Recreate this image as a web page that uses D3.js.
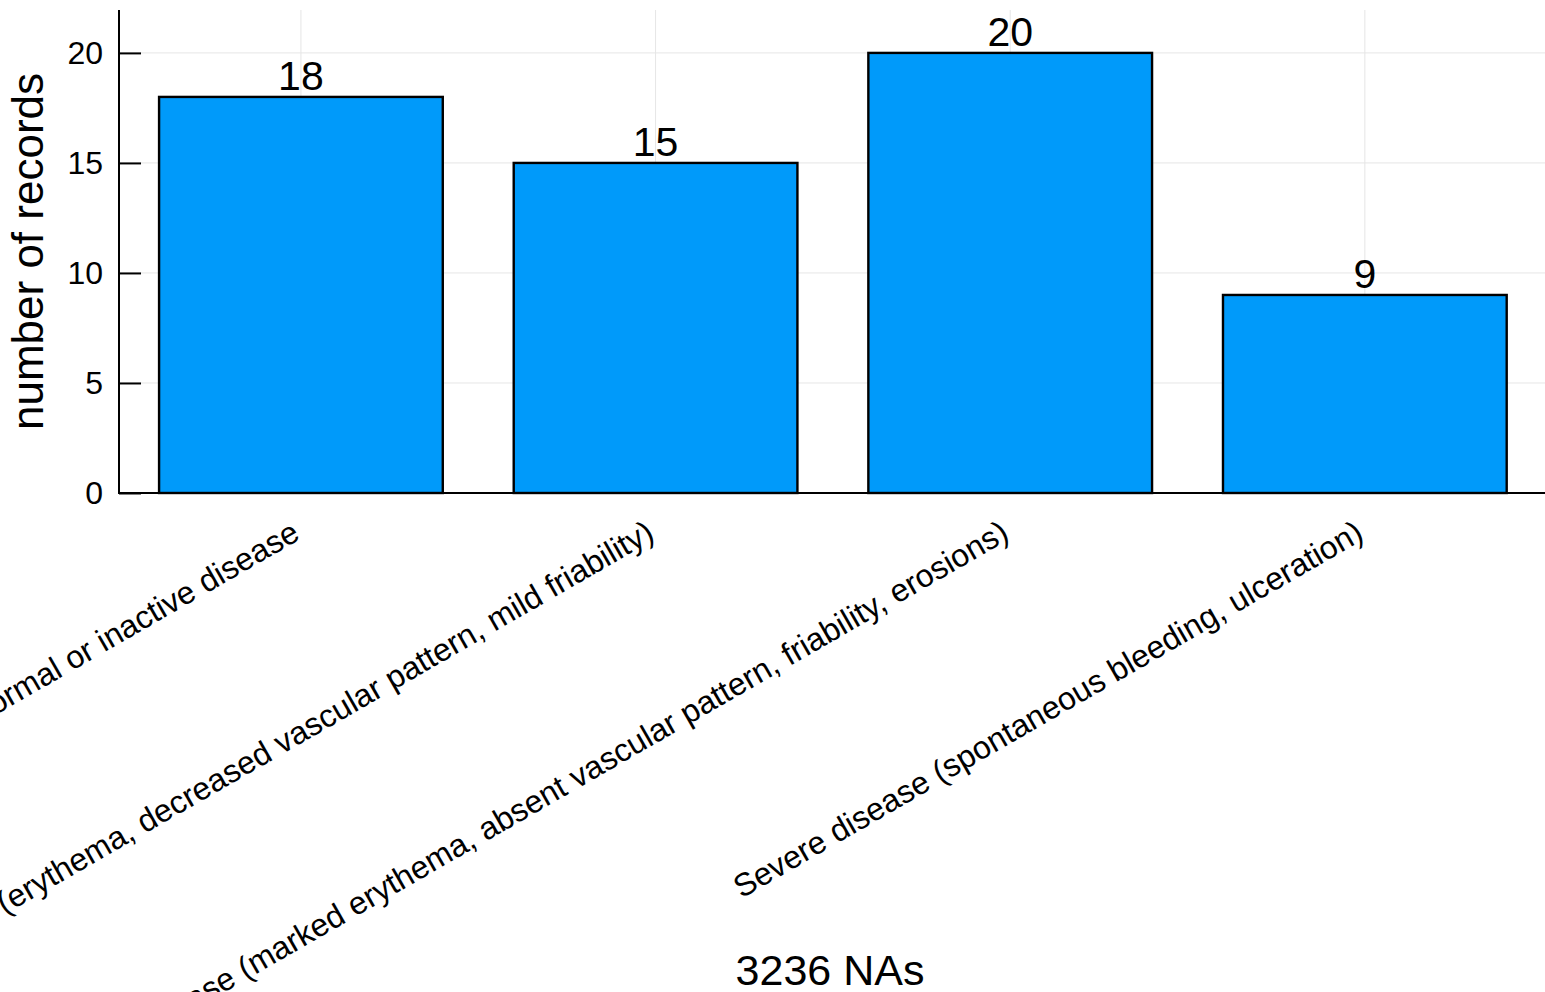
<!DOCTYPE html>
<html>
<head>
<meta charset="utf-8">
<script src="https://cdn.jsdelivr.net/npm/d3@7"></script>
<style>
  html, body { margin: 0; padding: 0; background: #fff; }
  svg { display: block; }
  text { font-family: "Liberation Sans", Arial, Helvetica, sans-serif; fill: #000; }
</style>
</head>
<body>
<svg id="chart" width="1545" height="992"></svg>
<script>
const categories = [
  "Normal or inactive disease",
  "Mild disease (erythema, decreased vascular pattern, mild friability)",
  "Moderate disease (marked erythema, absent vascular pattern, friability, erosions)",
  "Severe disease (spontaneous bleeding, ulceration)"
];
const counts = [18, 15, 20, 9];
const yTicks = [0, 5, 10, 15, 20];
const yLabel = "number of records";
const xLabel = "3236 NAs";

const W = 1545, H = 992;
const plotL = 119, plotR = 1545, plotT = 10, plotB = 493;

const svg = d3.select("#chart");

const x = d3.scaleLinear().domain([0.487, 4.508]).range([plotL, plotR]);
const y = d3.scaleLinear().domain([0, 21.95]).range([plotB, plotT]);
const barW = 0.8;

// grid lines
const grid = svg.append("g");
grid.selectAll("line.hg").data(yTicks).join("line")
  .attr("class", "hg")
  .attr("x1", plotL).attr("x2", plotR)
  .attr("y1", d => y(d)).attr("y2", d => y(d))
  .attr("stroke", "#e6e6e6").attr("stroke-width", 1);
grid.selectAll("line.vg").data(categories).join("line")
  .attr("class", "vg")
  .attr("x1", (d, i) => x(i + 1)).attr("x2", (d, i) => x(i + 1))
  .attr("y1", plotT).attr("y2", plotB)
  .attr("stroke", "#e6e6e6").attr("stroke-width", 1);

// y axis using d3 axis, ticks inward
const yAxis = d3.axisRight(y).tickValues(yTicks).tickSize(22).tickFormat("");
const gy = svg.append("g").attr("transform", `translate(${plotL},0)`).call(yAxis);
gy.select(".domain").remove();
gy.selectAll(".tick line").attr("stroke", "#000").attr("stroke-width", 2);

// y tick labels
svg.append("g").selectAll("text").data(yTicks).join("text")
  .attr("x", plotL - 16).attr("y", d => y(d))
  .attr("text-anchor", "end").attr("dominant-baseline", "central")
  .style("font-size", "32px")
  .text(d => d);

// bars
svg.append("g").selectAll("rect").data(counts).join("rect")
  .attr("x", (d, i) => x(i + 1 - barW / 2))
  .attr("width", (d, i) => x(i + 1 + barW / 2) - x(i + 1 - barW / 2))
  .attr("y", d => y(d))
  .attr("height", d => y(0) - y(d))
  .attr("fill", "#009AFA")
  .attr("stroke", "#000").attr("stroke-width", 2.4);

// spines
svg.append("line").attr("x1", plotL).attr("x2", plotL).attr("y1", plotT).attr("y2", plotB + 1)
  .attr("stroke", "#000").attr("stroke-width", 2);
svg.append("line").attr("x1", plotL - 1).attr("x2", plotR).attr("y1", plotB).attr("y2", plotB)
  .attr("stroke", "#000").attr("stroke-width", 2);

// value labels
svg.append("g").selectAll("text").data(counts).join("text")
  .attr("x", (d, i) => x(i + 1)).attr("y", d => y(d) - 7)
  .attr("text-anchor", "middle")
  .style("font-size", "41px")
  .text(d => d);

// category labels rotated
svg.append("g").selectAll("text").data(categories).join("text")
  .attr("transform", (d, i) => `translate(${x(i + 1) - 5},${529}) rotate(-30)`)
  .attr("text-anchor", "end").attr("dominant-baseline", "central")
  .style("font-size", "32px")
  .text(d => d);

// axis titles
svg.append("text")
  .attr("transform", `translate(43,${(plotT + plotB) / 2}) rotate(-90)`)
  .attr("text-anchor", "middle")
  .style("font-size", "44px")
  .text(yLabel);

svg.append("text")
  .attr("x", 830).attr("y", 985)
  .attr("text-anchor", "middle")
  .style("font-size", "43px")
  .text(xLabel);
</script>
</body>
</html>
